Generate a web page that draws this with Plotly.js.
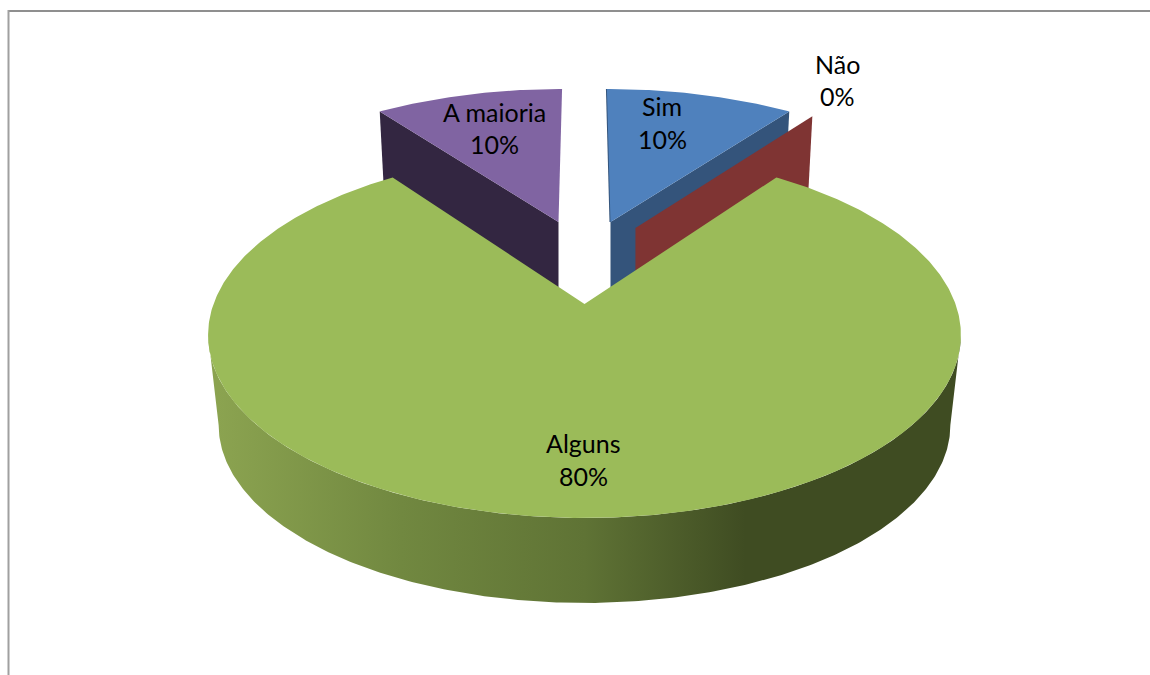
<!DOCTYPE html>
<html>
<head>
<meta charset="utf-8">
<script src="https://cdn.plot.ly/plotly-3.0.1.min.js"></script>
<style>html,body{margin:0;padding:0;background:#fff;overflow:hidden}#chart{width:1150px;height:675px}</style>
</head>
<body>
<div id="chart"></div>
<script>
// Survey answers, clockwise from twelve o'clock
const categories = ['Sim', 'Não', 'Alguns', 'A maioria'];
const shares = [10, 0, 80, 10];

// Slice colours: lit top face and shaded radial wall
const topColors = ['#4f81bd', '#c0504d', '#9bbb59', '#8064a2'];
const wallColors = ['#34547b', '#7f3433', '#5f7335', '#332641'];

// Pull-out of each slice on the pie plane, in units of the radius
const pullX = [0.076, 0.148, 0, -0.076];
const pullY = [0.5, 0.46, 0, 0.5];
const sliceScale = [1.02, 1.02, 1, 1.02];

// Perspective camera for the tilted pie
const camera = {cx: 584.5, topY: 304, baseY: 395, radiusX: 371, radiusY: 177.8, tilt: 0.169, baseScale: 0.972};

function project(u, v, isBase) {
  const d = 1 + camera.tilt * v;
  const s = isBase ? camera.baseScale : 1;
  return [camera.cx + s * camera.radiusX * u / d,
          (isBase ? camera.baseY : camera.topY) - s * camera.radiusY * v / d];
}

// Point of slice i on its rim (or its apex when rim is false)
function slicePoint(i, angle, rim, isBase) {
  const r = rim ? sliceScale[i] : 0;
  const px = isBase ? pullX[i] / camera.baseScale : pullX[i];
  return project(px + r * Math.sin(angle), pullY[i] + r * Math.cos(angle), isBase);
}

function arc(i, a0, a1, isBase) {
  const n = Math.max(2, Math.ceil(Math.abs(a1 - a0) / 0.01));
  const pts = [];
  for (let j = 0; j <= n; j++) pts.push(slicePoint(i, a0 + (a1 - a0) * j / n, true, isBase));
  return pts;
}

function polygon(pts, fill, extra) {
  return Object.assign({
    type: 'scatter', mode: 'lines', hoverinfo: 'skip', showlegend: false,
    x: pts.map(p => p[0]), y: pts.map(p => p[1]),
    fill: 'toself', fillcolor: fill, line: {width: 0}
  }, extra || {});
}

// Slice bounds from the shares
const total = shares.reduce((a, b) => a + b, 0);
const bounds = [];
let running = 0;
shares.forEach(v => {
  const a0 = running / total * 2 * Math.PI;
  running += v;
  bounds.push([a0, running / total * 2 * Math.PI]);
});

function radialWall(i, angle) {
  return polygon([
    slicePoint(i, angle, false, false), slicePoint(i, angle, true, false),
    slicePoint(i, angle, true, true), slicePoint(i, angle, false, true)
  ], wallColors[i]);
}

const traces = [];

// Back slices, farthest first; only the walls that face the viewer are drawn
traces.push(radialWall(3, bounds[3][0]));
traces.push(polygon([slicePoint(3, bounds[3][0], false, false)]
  .concat(arc(3, bounds[3][0], bounds[3][1], false)), topColors[3]));

// Thin shaded edge on the inner side of the first slice
const edge = [slicePoint(0, 0, true, false), slicePoint(0, 0, false, false)];
traces.push({
  type: 'scatter', mode: 'lines', hoverinfo: 'skip', showlegend: false,
  x: edge.map(p => p[0]), y: edge.map(p => p[1]),
  line: {color: wallColors[0], width: 2}
});
traces.push(radialWall(0, bounds[0][1]));
traces.push(polygon([slicePoint(0, bounds[0][0], false, false)]
  .concat(arc(0, bounds[0][0], bounds[0][1], false)), topColors[0]));

// The empty slice shows only its wall
traces.push(radialWall(1, bounds[1][1]));

// Curved side of the large slice between its two silhouette points
const big = 2;
const sideStart = Math.acos(-camera.tilt);
const sideEnd = 2 * Math.PI - sideStart;
traces.push(polygon(
  arc(big, sideStart, sideEnd, false).concat(arc(big, sideEnd, sideStart, true)),
  wallColors[big],
  {fillgradient: {
    type: 'horizontal', start: 218, stop: 951,
    colorscale: [[0, '#8ba350'], [0.25, '#718840'], [0.5, '#5f7335'], [0.72, '#3f4c22'], [1, '#3f4c22']]
  }}
));
traces.push(polygon([slicePoint(big, bounds[big][0], false, false)]
  .concat(arc(big, bounds[big][0], bounds[big][1], false)), topColors[big]));

// Two-line data labels: name above, percentage below
const labelX = [662, 837, 583, 494];
const labelY = [[106, 139], [64, 96], [443, 476], [112, 144]];
const annotations = [];
categories.forEach((name, i) => {
  const pct = Math.round(shares[i] / total * 100) + '%';
  [name, pct].forEach((text, line) => annotations.push({
    x: labelX[i], y: labelY[i][line], xref: 'x', yref: 'y', text: text,
    showarrow: false, xanchor: 'center', yanchor: 'middle',
    font: {family: 'Lato, Carlito, sans-serif', size: 25, color: '#000'}
  }));
});

// Chart frame: only the top and left edges fall inside the page
const frame = [
  {type: 'line', xref: 'x', yref: 'y', x0: 8, x1: 1150, y0: 11, y1: 11, line: {color: '#8f8f8f', width: 2}},
  {type: 'line', xref: 'x', yref: 'y', x0: 8.5, x1: 8.5, y0: 10, y1: 675, line: {color: '#a0a0a0', width: 2}}
];

const hidden = {visible: false, fixedrange: true};
Plotly.newPlot('chart', traces, {
  width: 1150, height: 675,
  margin: {l: 0, r: 0, t: 0, b: 0},
  paper_bgcolor: '#fff', plot_bgcolor: '#fff',
  xaxis: Object.assign({range: [0, 1150]}, hidden),
  yaxis: Object.assign({range: [675, 0]}, hidden),
  showlegend: false, shapes: frame, annotations: annotations
}, {displayModeBar: false, staticPlot: true});
</script>
</body>
</html>
